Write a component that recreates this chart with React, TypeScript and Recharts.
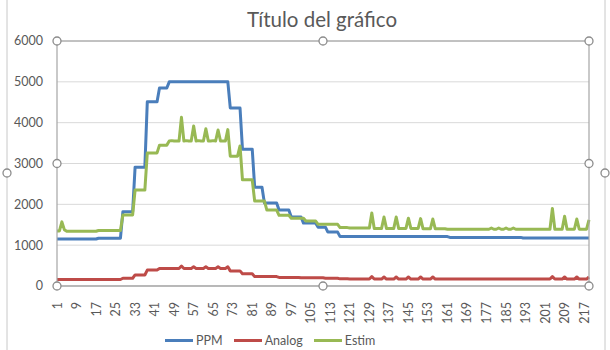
import React from 'react';
import { LineChart, Line, XAxis, YAxis, CartesianGrid, Legend } from 'recharts';

const ppm: number[] = [
  1150,1150,1150,1150,1150,1150,1150,1150,1150,1150,
  1150,1150,1150,1150,1150,1150,1150,1170,1170,1170,
  1170,1170,1170,1170,1170,1170,1170,1820,1820,1820,
  1820,1820,2910,2910,2910,2910,2910,4510,4510,4510,
  4510,4510,4850,4850,4850,4850,5000,5000,5000,5000,
  5000,5000,5000,5000,5000,5000,5000,5000,5000,5000,
  5000,5000,5000,5000,5000,5000,5000,5000,5000,5000,
  5000,4360,4360,4360,4360,4360,3350,3350,3350,3350,
  3350,2420,2420,2420,2420,2030,2030,2030,2030,2030,
  2030,1860,1860,1860,1860,1860,1690,1690,1690,1690,
  1690,1540,1540,1540,1540,1540,1540,1440,1440,1440,
  1440,1320,1320,1320,1320,1320,1210,1210,1210,1210,
  1210,1210,1210,1210,1210,1210,1210,1210,1210,1210,
  1210,1210,1210,1210,1210,1210,1210,1210,1210,1210,
  1210,1210,1210,1210,1210,1210,1210,1210,1210,1210,
  1210,1210,1210,1210,1210,1210,1210,1210,1210,1210,
  1210,1190,1190,1190,1190,1190,1190,1190,1190,1190,
  1190,1190,1190,1190,1190,1190,1190,1190,1190,1190,
  1190,1190,1190,1190,1190,1190,1190,1190,1190,1190,
  1190,1175,1175,1175,1175,1175,1175,1175,1175,1175,
  1175,1175,1175,1175,1175,1175,1175,1175,1175,1175,
  1175,1175,1175,1175,1175,1175,1175,1175,1175,
];

const analog: number[] = [
  160,160,160,160,160,160,160,160,160,160,
  160,160,160,160,160,160,160,160,160,160,
  160,160,160,160,160,160,160,190,190,190,
  190,190,270,270,270,270,270,390,390,390,
  390,390,430,430,430,430,430,430,430,430,
  430,490,430,430,430,430,470,430,430,430,
  430,470,430,430,430,430,470,430,430,430,
  470,370,370,370,370,370,300,300,300,300,
  300,230,230,230,230,230,230,230,230,230,
  230,210,210,210,210,210,210,210,210,210,
  200,200,200,200,200,200,200,200,200,200,
  190,190,190,190,190,190,175,175,175,175,
  170,170,170,170,170,170,170,170,170,230,
  170,170,170,170,220,170,170,170,170,220,
  170,170,170,170,220,170,170,170,170,220,
  170,170,170,170,220,170,170,170,170,170,
  170,170,170,170,170,170,170,170,170,170,
  170,170,170,170,170,170,170,170,170,170,
  170,170,170,170,170,170,170,170,170,170,
  170,170,170,170,170,170,170,170,170,170,
  170,170,170,230,170,170,170,170,220,170,
  170,170,170,220,170,170,170,170,220,
];

const estim: number[] = [
  1350,1350,1570,1380,1340,1340,1340,1340,1340,1340,
  1340,1340,1340,1340,1340,1340,1340,1360,1360,1360,
  1360,1360,1360,1360,1360,1360,1360,1740,1740,1740,
  1740,1740,2350,2350,2350,2350,2350,3260,3260,3260,
  3260,3260,3450,3450,3450,3450,3550,3560,3550,3550,
  3550,4130,3550,3560,3550,3550,3920,3550,3560,3550,
  3550,3850,3550,3550,3560,3550,3820,3550,3550,3550,
  3830,3180,3180,3180,3180,3430,2600,2600,2600,2600,
  2600,2080,2080,2080,2080,2080,1860,1860,1860,1860,
  1860,1730,1730,1730,1730,1730,1660,1660,1660,1660,
  1660,1660,1590,1590,1590,1590,1590,1510,1510,1510,
  1510,1510,1510,1510,1510,1510,1430,1430,1430,1430,
  1420,1420,1420,1420,1420,1420,1420,1420,1420,1790,
  1410,1410,1410,1410,1690,1410,1410,1410,1410,1690,
  1410,1410,1410,1410,1660,1410,1410,1410,1410,1650,
  1400,1400,1400,1400,1640,1400,1400,1400,1400,1400,
  1390,1390,1390,1390,1390,1390,1390,1390,1390,1390,
  1390,1390,1390,1390,1390,1390,1390,1390,1420,1390,
  1390,1420,1390,1390,1420,1390,1390,1420,1390,1390,
  1390,1390,1390,1390,1390,1390,1390,1390,1390,1390,
  1390,1390,1390,1900,1390,1390,1390,1390,1710,1390,
  1390,1390,1390,1640,1390,1390,1390,1390,1620,
];

const categories: string[] = ppm.map((_, i) => String(i + 1));
const yTicks: number[] = [0, 1000, 2000, 3000, 4000, 5000, 6000];
const seriesNames = ['PPM', 'Analog', 'Estim'];
const colors = ['#4a7ebb', '#be4b48', '#98b954'];

const data = categories.map((c, i) => ({ cat: c, PPM: ppm[i], Analog: analog[i], Estim: estim[i] }));

const W = 610;
const H = 350;
const M = { top: 41, right: 21, left: 0, bottom: 0 };
const Y_W = 57;
const X_H = 44;
const LEG_H = 20;
const PL = M.left + Y_W;
const PR = W - M.right;
const PT = M.top;
const PB = H - M.bottom - LEG_H - X_H;
const FONT = 'Lato, "Open Sans", sans-serif';
const TXT = '#595959';

const XTick = (props: any) => {
  const { x, y, payload } = props;
  const ty = y + 8;
  return (
    <text x={x} y={ty} transform={`rotate(-90, ${x}, ${ty})`} textAnchor="end" dominantBaseline="central"
      fill={TXT} fontSize={12.5} fontFamily={FONT}>{payload.value}</text>
  );
};

const LegendContent = () => (
  <div style={{ position: 'relative', height: LEG_H, fontFamily: FONT, fontSize: 12.5, color: TXT }}>
    <div style={{ position: 'absolute', left: 165, top: 0, height: LEG_H, display: 'flex', alignItems: 'center' }}>
      {seriesNames.map((n, i) => (
        <div key={n} style={{ display: 'flex', alignItems: 'center', marginRight: 11 }}>
          <div style={{ width: 28, height: 3, background: colors[i], marginRight: 3 }} />
          <span>{n}</span>
        </div>
      ))}
    </div>
  </div>
);

const Handle = ({ cx, cy }: { cx: number; cy: number }) => (
  <circle cx={cx} cy={cy} r={4} fill="#ffffff" stroke="#8c8c8c" strokeWidth={1.3} />
);

export default function App() {
  const midX = (PL + PR) / 2;
  const midY = (PT + PB) / 2;
  return (
    <div style={{ position: 'absolute', left: 0, top: 0, width: W, height: H, background: '#ffffff', fontFamily: FONT }}>
      <LineChart width={W} height={H} data={data} margin={M}>
        <CartesianGrid vertical={false} stroke="#d9d9d9" strokeWidth={1} />
        <XAxis dataKey="cat" interval={7} tickLine={false} axisLine={{ stroke: '#bfbfbf' }} height={X_H} tick={<XTick />} />
        <YAxis width={Y_W} domain={[0, 6000]} ticks={yTicks} tickLine={false} axisLine={false} tickMargin={8}
          tick={{ fill: TXT, fontSize: 12.5, fontFamily: FONT }} />
        <Legend verticalAlign="bottom" height={LEG_H} content={<LegendContent />} />
        {seriesNames.map((n, i) => (
          <Line key={n} type="linear" dataKey={n} stroke={colors[i]} strokeWidth={3} dot={false}
            isAnimationActive={false} strokeLinejoin="round" />
        ))}
      </LineChart>
      <svg width={W} height={H} style={{ position: 'absolute', left: 0, top: 0, pointerEvents: 'none' }}>
        <text x={322} y={19} textAnchor="middle" dominantBaseline="central" fill={TXT} fontSize={20.5} fontFamily={FONT}>
          Título del gráfico
        </text>
        <line x1={7} y1={0} x2={7} y2={H} stroke="#c8c8c8" strokeWidth={1} />
        <line x1={605} y1={0} x2={605} y2={H} stroke="#c8c8c8" strokeWidth={1} />
        <rect x={PL} y={PT} width={PR - PL} height={PB - PT} fill="none" stroke="#a6a6a6" strokeWidth={1.2} />
        <Handle cx={7} cy={173} />
        <Handle cx={605} cy={173} />
        <Handle cx={PL} cy={PT} />
        <Handle cx={midX} cy={PT} />
        <Handle cx={PR} cy={PT} />
        <Handle cx={PL} cy={midY} />
        <Handle cx={PR} cy={midY} />
        <Handle cx={PL} cy={PB} />
        <Handle cx={midX} cy={PB} />
        <Handle cx={PR} cy={PB} />
      </svg>
    </div>
  );
}
